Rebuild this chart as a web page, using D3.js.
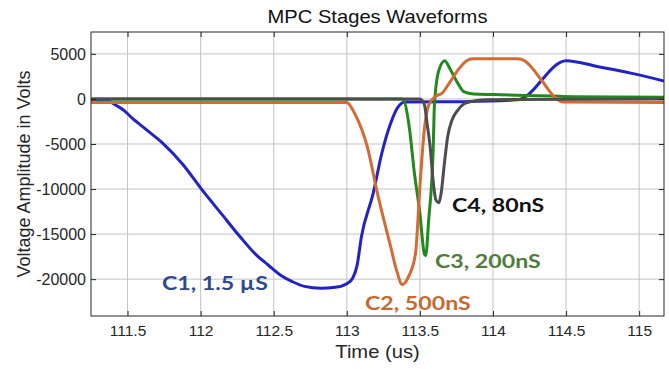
<!DOCTYPE html>
<html>
<head>
<meta charset="utf-8">
<script src="https://cdn.jsdelivr.net/npm/d3@7"></script>
<style>
  body { margin: 0; background: #fff; }
  svg { display: block; font-family: "Liberation Sans", Arial, sans-serif; }
</style>
</head>
<body>
<svg id="chart" width="669" height="369"></svg>
<script>
///////  data ///////

var xTicks = [111.5, 112, 112.5, 113, 113.5, 114, 114.5, 115];
var yTicks = [-20000, -15000, -10000, -5000, 0, 5000];

// C1, 1.5 uS (blue)
var c1Time = [111.25, 111.34, 111.38, 111.42, 111.47, 111.53, 111.62, 111.74, 111.88, 112.01, 112.15, 112.27, 112.38, 112.46, 112.55, 112.63, 112.71, 112.82, 112.92, 113.0, 113.04, 113.07, 113.10, 113.18, 113.24, 113.30, 113.35, 113.40, 113.8, 114.17, 114.5, 114.72, 114.95, 115.17];
var c1Volt = [-100, -100, -300, -700, -1200, -2100, -3300, -4900, -7300, -10100, -12900, -15300, -17300, -18400, -19600, -20300, -20800, -21000, -20900, -20500, -19900, -18500, -15300, -10500, -6000, -2700, -900, -350, -300, -100, 4250, 3580, 2840, 2000];

// C2, 500nS (orange)
var c2Time = [111.25, 113.0, 113.05, 113.14, 113.21, 113.30, 113.34, 113.38, 113.42, 113.47, 113.50, 113.53, 113.56, 113.61, 113.65, 113.70, 113.76, 113.82, 113.86, 114.17, 114.22, 114.26, 114.34, 114.42, 114.48, 115.17];
var c2Volt = [-400, -400, -1500, -5300, -10500, -16400, -19000, -20600, -19800, -17150, -9750, -3450, -680, 320, 620, 1730, 3200, 4250, 4450, 4450, 4200, 3580, 1910, 240, -350, -400];

// C3, 200nS (green)
var c3Time = [111.25, 113.38, 113.43, 113.46, 113.50, 113.53, 113.54, 113.56, 113.59, 113.60, 113.63, 113.67, 113.71, 113.76, 113.80, 113.87, 114.0, 114.4, 114.55, 115.17];
var c3Volt = [0, 0, -3450, -7900, -12700, -17150, -17400, -13450, -6040, -490, 3200, 4250, 3200, 1730, 800, 540, 480, 320, 250, 200];

// C4, 80nS (dark grey)
var c4Time = [111.25, 113.50, 113.53, 113.55, 113.57, 113.59, 113.61, 113.63, 113.645, 113.67, 113.69, 113.72, 113.76, 113.80, 113.85, 113.95, 115.17];
var c4Volt = [0, 0, -600, -2800, -5300, -9000, -11230, -11530, -10490, -6800, -4200, -2340, -1230, -570, -300, -80, 0];

var series = [
  {name: "C1, 1.5 \u00b5S", time: c1Time, volt: c1Volt, color: "#2323c4", labelColor: "#2e4a8e", lx: 162, ly: 290},
  {name: "C3, 200nS", time: c3Time, volt: c3Volt, color: "#23891f", labelColor: "#4e7d3c", lx: 435, ly: 268},
  {name: "C2, 500nS", time: c2Time, volt: c2Volt, color: "#d26b35", labelColor: "#c7692f", lx: 365, ly: 310},
  {name: "C4, 80nS", time: c4Time, volt: c4Volt, color: "#4d4d4d", labelColor: "#111111", lx: 452, ly: 212}
];

///////  layout ///////

var svg = d3.select("#chart"),
margin = {top: 32, right: 5, bottom: 53, left: 91},
width = +svg.attr("width") - margin.left - margin.right,
height = +svg.attr("height") - margin.top - margin.bottom;

svg.append("rect").attr("width", 669).attr("height", 369).attr("fill", "#fff");

var g = svg.append("g")
.attr("transform", "translate(" + margin.left + "," + margin.top + ")");

var x = d3.scaleLinear().domain([111.25, 115.17]).range([0, width]),
y = d3.scaleLinear().domain([-24090, 7430]).range([height, 0]);

// grid
g.append("g").selectAll("line").data(xTicks).enter().append("line")
.attr("x1", function(d) { return x(d); }).attr("x2", function(d) { return x(d); })
.attr("y1", 0).attr("y2", height)
.attr("stroke", "#c4c4c4").attr("stroke-width", 1);

g.append("g").selectAll("line").data(yTicks).enter().append("line")
.attr("y1", function(d) { return y(d); }).attr("y2", function(d) { return y(d); })
.attr("x1", 0).attr("x2", width)
.attr("stroke", "#c4c4c4").attr("stroke-width", 1);

///////  waveforms ///////

var line = d3.line()
.curve(d3.curveMonotoneX)
.x(function(d) { return x(d[0]); })
.y(function(d) { return y(d[1]); });

g.append("defs").append("clipPath").attr("id", "clip")
.append("rect").attr("width", width).attr("height", height);

series.forEach(function(s) {
    var pts = s.time.map(function(t, i) { return [t, s.volt[i]]; });
    g.append("path")
    .datum(pts)
    .attr("clip-path", "url(#clip)")
    .attr("fill", "none")
    .attr("stroke", s.color)
    .attr("stroke-width", 3)
    .attr("stroke-linejoin", "round")
    .attr("d", line);
});

///////  axes (matlab style box, ticks inside) ///////

var tickCol = "#262626";

g.append("g")
.attr("transform", "translate(0," + height + ")")
.call(d3.axisBottom(x).tickValues(xTicks).tickSizeInner(-5).tickSizeOuter(0).tickPadding(9).tickFormat(function(d) { return String(d); }))
.call(function(a) {
    a.select(".domain").remove();
    a.selectAll("line").attr("stroke", tickCol);
    a.selectAll("text").attr("font-size", "15.5px").attr("fill", tickCol).attr("font-family", "Liberation Sans, Arial, sans-serif");
});

g.append("g")
.call(d3.axisLeft(y).tickValues(yTicks).tickSizeInner(-5).tickSizeOuter(0).tickPadding(5).tickFormat(function(d) { return String(d); }))
.call(function(a) {
    a.select(".domain").remove();
    a.selectAll("line").attr("stroke", tickCol);
    a.selectAll("text").attr("font-size", "16px").attr("fill", tickCol).attr("font-family", "Liberation Sans, Arial, sans-serif");
});

g.append("g").call(d3.axisTop(x).tickValues(xTicks).tickSizeInner(-5).tickSizeOuter(0).tickFormat(""))
.call(function(a) { a.select(".domain").remove(); a.selectAll("line").attr("stroke", tickCol); });

g.append("g").attr("transform", "translate(" + width + ",0)")
.call(d3.axisRight(y).tickValues(yTicks).tickSizeInner(-5).tickSizeOuter(0).tickFormat(""))
.call(function(a) { a.select(".domain").remove(); a.selectAll("line").attr("stroke", tickCol); });

g.append("rect")
.attr("width", width).attr("height", height)
.attr("fill", "none").attr("stroke", tickCol).attr("stroke-width", 1);

///////  labels ///////

// the source image is a bit stretched sideways, so the text is too
series.forEach(function(s) {
    svg.append("text")
    .attr("transform", "translate(" + s.lx + "," + s.ly + ") scale(1.22,1)")
    .attr("font-family", "Lato, 'Open Sans', sans-serif")
    .attr("font-weight", "bold")
    .attr("font-size", "19px")
    .attr("fill", s.labelColor)
    .text(s.name);
});

svg.append("text")
.attr("transform", "translate(" + (margin.left + width / 2) + ",23) scale(1.12,1)")
.attr("text-anchor", "middle")
.attr("font-size", "18px")
.attr("fill", "#111")
.text("MPC Stages Waveforms");

svg.append("text")
.attr("transform", "translate(" + (margin.left + width / 2) + ",358) scale(1.12,1)")
.attr("text-anchor", "middle")
.attr("font-size", "18px")
.attr("fill", tickCol)
.text("Time (us)");

svg.append("text")
.attr("transform", "translate(30," + (margin.top + height / 2) + ") rotate(-90)")
.attr("text-anchor", "middle")
.attr("font-size", "18px")
.attr("fill", tickCol)
.text("Voltage Amplitude in Volts");
</script>
</body>
</html>
